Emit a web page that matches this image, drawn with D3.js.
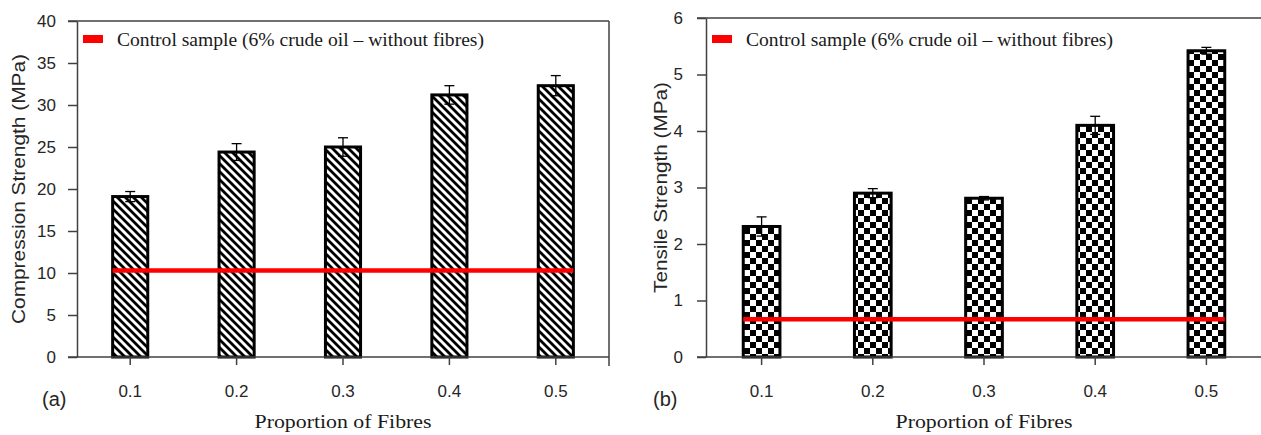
<!DOCTYPE html>
<html>
<head>
<meta charset="utf-8">
<script src="https://cdn.jsdelivr.net/npm/d3@7"></script>
<style>
  body { margin: 0; background: #fff; }
  .tick text { font-family: "Liberation Sans", Arial, sans-serif; font-size: 17px; fill: #262626; }
  .tick line, .domain { stroke: #404040; stroke-width: 1.5; }
</style>
</head>
<body>
<script>
// Chart data
var categories = ["0.1", "0.2", "0.3", "0.4", "0.5"];

var compressionValues = [19.1, 24.4, 25.0, 31.2, 32.3];
var compressionErrors = [0.6, 1.0, 1.1, 1.1, 1.2];
var compressionControl = 10.3;
var compressionTicks = [0, 5, 10, 15, 20, 25, 30, 35, 40];

var tensileValues = [2.31, 2.9, 2.81, 4.1, 5.42];
var tensileErrors = [0.17, 0.08, 0.03, 0.16, 0.06];
var tensileControl = 0.67;
var tensileTicks = [0, 1, 2, 3, 4, 5, 6];

var legendText = "Control sample (6% crude oil \u2013 without fibres)";

var svgWidth = 1261;
var svgHeight = 435;

var svg = d3.select("body")
    .append("svg")
    .attr("width", svgWidth)
    .attr("height", svgHeight);

// patterns for the bars
var defs = svg.append("defs");

var hatch = defs.append("pattern")
    .attr("id", "hatch")
    .attr("patternUnits", "userSpaceOnUse")
    .attr("width", 8)
    .attr("height", 8);
hatch.append("rect").attr("width", 8).attr("height", 8).attr("fill", "#fff");
hatch.append("path")
    .attr("d", "M0,0 L8,8 M-2,6 L2,10 M6,-2 L10,2")
    .attr("stroke", "#000")
    .attr("stroke-width", 2.8);

var checker = defs.append("pattern")
    .attr("id", "checker")
    .attr("patternUnits", "userSpaceOnUse")
    .attr("width", 12)
    .attr("height", 12);
checker.append("rect").attr("width", 12).attr("height", 12).attr("fill", "#fff");
checker.append("rect").attr("width", 6).attr("height", 6).attr("fill", "#000");
checker.append("rect").attr("x", 6).attr("y", 6).attr("width", 6).attr("height", 6).attr("fill", "#000");

function drawPanel(p) {
    var x = d3.scaleBand()
        .domain(categories)
        .range([p.left, p.right])
        .paddingInner(0.67)
        .paddingOuter(0.335);

    var y = d3.scaleLinear()
        .domain([0, d3.max(p.ticks)])
        .range([p.bottom, p.top]);

    var g = svg.append("g");

    // frame top line (and right side for panel a)
    g.append("line")
        .attr("x1", p.left - 9).attr("x2", p.frameRight)
        .attr("y1", y(d3.max(p.ticks))).attr("y2", y(d3.max(p.ticks)))
        .attr("stroke", "#404040").attr("stroke-width", 1.5);
    if (p.rightLine) {
        g.append("line")
            .attr("x1", p.right).attr("x2", p.right)
            .attr("y1", p.top).attr("y2", p.bottom + 9)
            .attr("stroke", "#404040").attr("stroke-width", 1.5);
    }

    // bars
    var data = p.values.map(function (v, i) {
        return { cat: categories[i], value: v, err: p.errors[i] };
    });

    g.selectAll(".bar")
        .data(data)
        .enter()
        .append("rect")
        .attr("class", "bar")
        .attr("x", d => x(d.cat))
        .attr("y", d => y(d.value))
        .attr("width", x.bandwidth())
        .attr("height", d => y(0) - y(d.value))
        .attr("fill", "url(#" + p.pattern + ")")
        .attr("stroke", "#000")
        .attr("stroke-width", 3);

    // error bars
    var eb = g.selectAll(".err")
        .data(data)
        .enter()
        .append("g")
        .attr("class", "err")
        .attr("stroke", "#000")
        .attr("stroke-width", 1.3);
    eb.append("line")
        .attr("x1", d => x(d.cat) + x.bandwidth() / 2)
        .attr("x2", d => x(d.cat) + x.bandwidth() / 2)
        .attr("y1", d => y(d.value - d.err))
        .attr("y2", d => y(d.value + d.err));
    eb.append("line")
        .attr("x1", d => x(d.cat) + x.bandwidth() / 2 - 5)
        .attr("x2", d => x(d.cat) + x.bandwidth() / 2 + 5)
        .attr("y1", d => y(d.value + d.err))
        .attr("y2", d => y(d.value + d.err));
    eb.append("line")
        .attr("x1", d => x(d.cat) + x.bandwidth() / 2 - 5)
        .attr("x2", d => x(d.cat) + x.bandwidth() / 2 + 5)
        .attr("y1", d => y(d.value - d.err))
        .attr("y2", d => y(d.value - d.err));

    // control line
    g.append("line")
        .attr("x1", x(categories[0]))
        .attr("x2", x(categories[categories.length - 1]) + x.bandwidth())
        .attr("y1", y(p.control))
        .attr("y2", y(p.control))
        .attr("stroke", "#ff0000")
        .attr("stroke-width", 4.5);

    // axes
    g.append("g")
        .attr("transform", `translate(0, ${p.bottom})`)
        .call(d3.axisBottom(x).tickSize(8).tickSizeOuter(0).tickPadding(20))
        .call(s => s.select(".domain").attr("d", `M${p.left - 9},0H${p.frameRight}`));

    g.append("g")
        .attr("transform", `translate(${p.left}, 0)`)
        .call(d3.axisLeft(y).tickValues(p.ticks).tickFormat(d3.format("d"))
            .tickSize(9).tickSizeOuter(0).tickPadding(p.yPad));

    // legend
    g.append("rect")
        .attr("x", p.left + 6).attr("y", 35)
        .attr("width", 20).attr("height", 8)
        .attr("fill", "#ff0000");
    g.append("text")
        .attr("x", p.left + 40).attr("y", 46)
        .attr("font-family", "'Liberation Serif', 'Times New Roman', serif")
        .attr("font-size", 18)
        .attr("fill", "#1a1a1a")
        .attr("textLength", 367)
        .attr("lengthAdjust", "spacingAndGlyphs")
        .text(legendText);

    // axis titles
    g.append("text")
        .attr("x", (p.left + p.right) / 2)
        .attr("y", 428)
        .attr("text-anchor", "middle")
        .attr("font-family", "'Liberation Serif', 'Times New Roman', serif")
        .attr("font-size", 19)
        .attr("fill", "#1a1a1a")
        .attr("textLength", 177)
        .attr("lengthAdjust", "spacingAndGlyphs")
        .text("Proportion of Fibres");

    g.append("text")
        .attr("transform", `translate(${p.titleX}, ${(p.top + p.bottom) / 2}) rotate(-90)`)
        .attr("text-anchor", "middle")
        .attr("font-family", "'Liberation Sans', Arial, sans-serif")
        .attr("font-size", 18)
        .attr("fill", "#262626")
        .attr("textLength", p.titleLen)
        .attr("lengthAdjust", "spacingAndGlyphs")
        .text(p.title);

    g.append("text")
        .attr("x", p.labelX).attr("y", 406)
        .attr("font-family", "'Liberation Sans', Arial, sans-serif")
        .attr("font-size", 20)
        .attr("fill", "#262626")
        .text(p.label);
}

drawPanel({
    left: 77, right: 609, top: 21, bottom: 357, frameRight: 609, rightLine: true,
    values: compressionValues, errors: compressionErrors, control: compressionControl,
    ticks: compressionTicks, pattern: "hatch", yPad: 12,
    title: "Compression Strength (MPa)", titleX: 25, titleLen: 270,
    label: "(a)", labelX: 42
});

drawPanel({
    left: 706, right: 1262, top: 18, bottom: 357, frameRight: 1261, rightLine: false,
    values: tensileValues, errors: tensileErrors, control: tensileControl,
    ticks: tensileTicks, pattern: "checker", yPad: 14,
    title: "Tensile Strength (MPa)", titleX: 667, titleLen: 211,
    label: "(b)", labelX: 653
});
</script>
</body>
</html>
